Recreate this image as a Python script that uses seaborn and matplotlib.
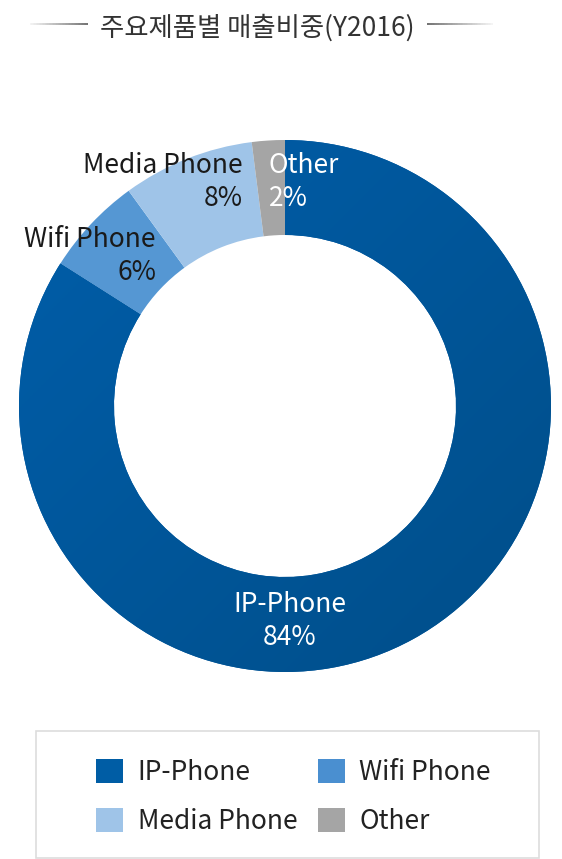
import numpy as np
import seaborn as sns
import matplotlib.pyplot as plt
from matplotlib.patches import Patch, Rectangle
from matplotlib.collections import LineCollection
from matplotlib.colors import LinearSegmentedColormap

# Data
products = ["IP-Phone", "Wifi Phone", "Media Phone", "Other"]
shares = [84, 6, 8, 2]
colors = ["#0059A2", "#5597D3", "#9FC4E8", "#A5A5A5"]
legend_colors = ["#005DA5", "#4A8FD0", "#9FC4E8", "#A5A5A5"]
title = "주요제품별 매출비중(Y2016)"

sns.set_theme(style="white")
plt.rcParams['font.family'] = ['Noto Sans CJK KR', 'DejaVu Sans']

W, H = 562, 859
fig = plt.figure(figsize=(W / 100, H / 100), dpi=100)
ax = fig.add_axes([0, 0, 1, 1])
ax.set_xlim(0, W)
ax.set_ylim(0, H)
ax.axis("off")

# Donut
cx, cy = 285, H - 406
wedges, _ = ax.pie(shares, colors=colors, startangle=90, counterclock=False,
                   radius=266, center=(cx, cy), frame=True,
                   wedgeprops=dict(width=95, linewidth=0))

# subtle gradient on the main wedge
cmap = LinearSegmentedColormap.from_list("blu", ["#005EAA", "#004E89"])
gx, gy = np.meshgrid(np.linspace(0, 1, 200), np.linspace(0, 1, 200))
grad = (gx + gy) / 2
img = ax.imshow(grad, cmap=cmap, extent=(cx - 266, cx + 266, cy - 266, cy + 266),
                origin="upper", zorder=2, interpolation="bilinear")
img.set_clip_path(wedges[0])
ax.set_xlim(0, W)
ax.set_ylim(0, H)
ax.set_aspect("auto")

# Slice labels
lab_kw = dict(fontsize=19, fontweight="light", linespacing=1.27, va="center", zorder=5)
ax.text(290, H - 621, f"{products[0]}\n{shares[0]}%", color="white", ha="center",
        multialignment="center", **lab_kw)
ax.text(156, H - 256, f"{products[1]}\n{shares[1]}%", color="#1a1a1a", ha="right",
        multialignment="right", **lab_kw)
ax.text(243, H - 182, f"{products[2]}\n{shares[2]}%", color="#1a1a1a", ha="right",
        multialignment="right", **lab_kw)
ax.text(269, H - 182, f"{products[3]}\n{shares[3]}%", color="white", ha="left",
        multialignment="left", **lab_kw)

# Title with fading side lines
ax.text(257, H - 28, title, fontsize=19, fontweight="light", color="#333333",
        ha="center", va="center")
n = 40
for x0, x1, rev in [(30, 88, False), (427, 493, True)]:
    xs = np.linspace(x0, x1, n + 1)
    segs = [[(xs[i], H - 24), (xs[i + 1], H - 24)] for i in range(n)]
    t = np.linspace(0, 1, n)
    if rev:
        t = t[::-1]
    cols = [(0.35 + 0.6 * (1 - v),) * 3 for v in t]
    ax.add_collection(LineCollection(segs, colors=cols, linewidths=1.2))

# Legend box
ax.add_patch(Rectangle((36, H - 858), 503, 127, facecolor="white",
                       edgecolor="#DDDDDD", linewidth=1.2))
# matplotlib fills legend column-wise; reorder so rows read IP/Wifi, Media/Other
order = [0, 2, 1, 3]
handles = [Patch(facecolor=legend_colors[i], edgecolor="none") for i in order]
labels = [products[i] for i in order]
fs = 19 * 100 / 72
leg = ax.legend(handles, labels, ncol=2, loc="upper left",
                bbox_to_anchor=(96 / W, 1 - 759 / H), bbox_transform=fig.transFigure,
                frameon=False, fontsize=19, borderpad=0, borderaxespad=0,
                handlelength=27 / fs, handleheight=27 / fs, handletextpad=0.55,
                columnspacing=0.78, labelspacing=0.85)
for t in leg.get_texts():
    t.set_color("#222222")
    t.set_fontweight("light")

fig.savefig("out.png", dpi=100)
